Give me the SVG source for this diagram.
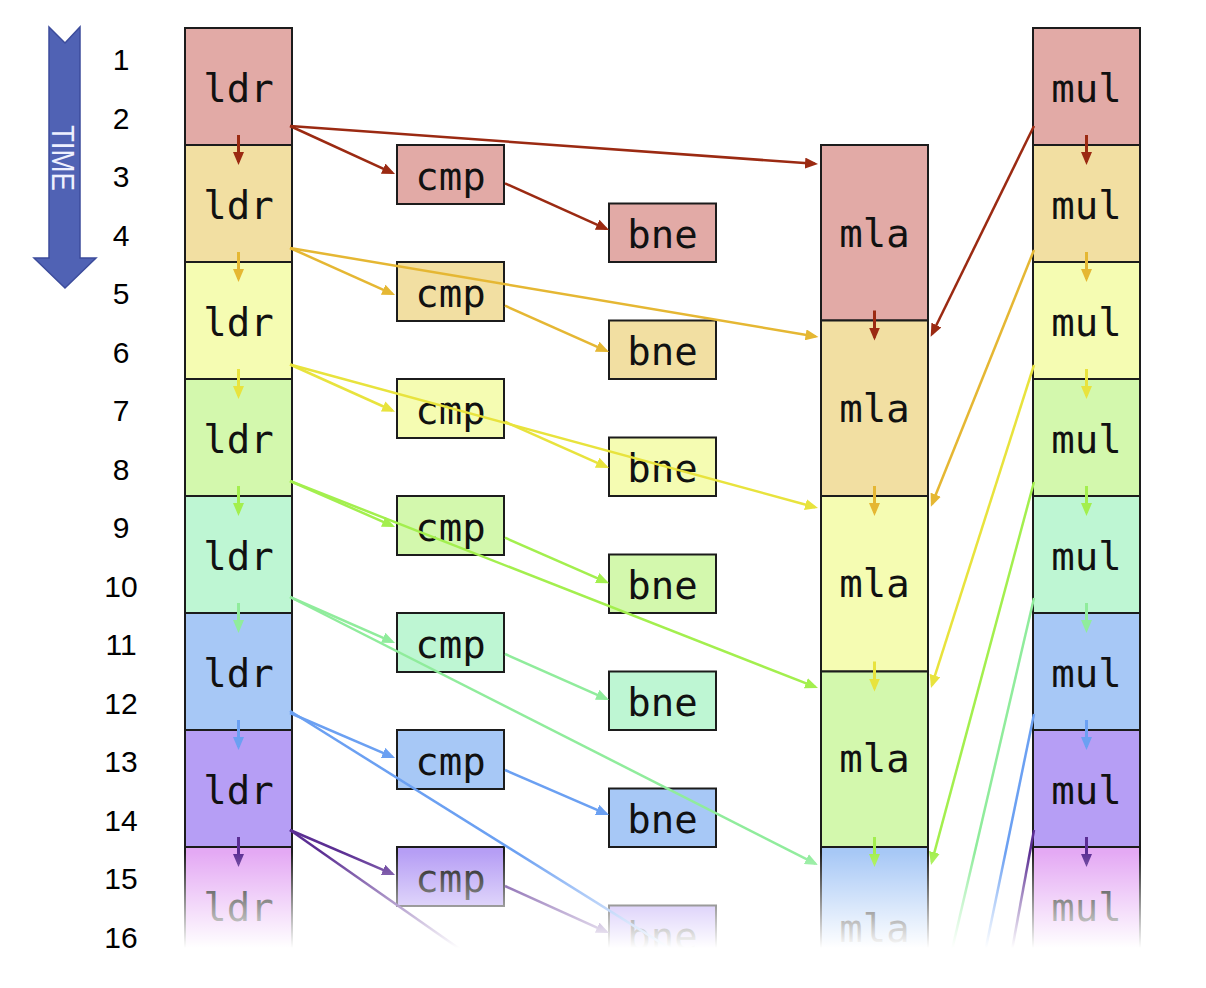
<svg xmlns="http://www.w3.org/2000/svg" width="1206" height="988" viewBox="0 0 1206 988">
<style>
.box{stroke:#1c1c1c;stroke-width:2}
.lbl{font-family:"DejaVu Sans Mono",monospace;font-size:39px;text-anchor:middle;fill:#111}
.num{font-family:"Liberation Sans",Arial,sans-serif;font-size:30px;text-anchor:middle;fill:#000}
.f0{fill:#E2AAA6}.f1{fill:#F2DFA2}.f2{fill:#F5FCB2}.f3{fill:#D3F8AD}.f4{fill:#BEF6D3}.f5{fill:#A7C8F6}.f6{fill:#B69EF5}.f7{fill:#E4A9F4}
.ln{fill:none;stroke-width:2.5}
.dn{fill:none;stroke-width:3}
.s0{stroke:#9B2A12;marker-end:url(#m0)}.s1{stroke:#E5B733;marker-end:url(#m1)}.s2{stroke:#E8E33D;marker-end:url(#m2)}.s3{stroke:#A3EF4E;marker-end:url(#m3)}.s4{stroke:#90EC9C;marker-end:url(#m4)}.s5{stroke:#6BA0F2;marker-end:url(#m5)}.s6{stroke:#5B2E93;marker-end:url(#m6)}
</style>
<defs>
<marker id="m0" markerUnits="userSpaceOnUse" markerWidth="13" markerHeight="11" refX="10" refY="5.5" orient="auto"><path d="M0,0 L13,5.5 L0,11 z" fill="#9B2A12"/></marker>
<marker id="m1" markerUnits="userSpaceOnUse" markerWidth="13" markerHeight="11" refX="10" refY="5.5" orient="auto"><path d="M0,0 L13,5.5 L0,11 z" fill="#E5B733"/></marker>
<marker id="m2" markerUnits="userSpaceOnUse" markerWidth="13" markerHeight="11" refX="10" refY="5.5" orient="auto"><path d="M0,0 L13,5.5 L0,11 z" fill="#E8E33D"/></marker>
<marker id="m3" markerUnits="userSpaceOnUse" markerWidth="13" markerHeight="11" refX="10" refY="5.5" orient="auto"><path d="M0,0 L13,5.5 L0,11 z" fill="#A3EF4E"/></marker>
<marker id="m4" markerUnits="userSpaceOnUse" markerWidth="13" markerHeight="11" refX="10" refY="5.5" orient="auto"><path d="M0,0 L13,5.5 L0,11 z" fill="#90EC9C"/></marker>
<marker id="m5" markerUnits="userSpaceOnUse" markerWidth="13" markerHeight="11" refX="10" refY="5.5" orient="auto"><path d="M0,0 L13,5.5 L0,11 z" fill="#6BA0F2"/></marker>
<marker id="m6" markerUnits="userSpaceOnUse" markerWidth="13" markerHeight="11" refX="10" refY="5.5" orient="auto"><path d="M0,0 L13,5.5 L0,11 z" fill="#5B2E93"/></marker>
<linearGradient id="fade" gradientUnits="userSpaceOnUse" x1="0" y1="852" x2="0" y2="948">
<stop offset="0" stop-color="#fff" stop-opacity="0"/>
<stop offset="1" stop-color="#fff" stop-opacity="1"/>
</linearGradient>
</defs>
<rect width="1206" height="988" fill="#fff"/>

<g id="time-arrow">
<polygon points="49,27 65,43 80,27 80,258 96,258 65,288 34,258 49,258" fill="#5062B4" stroke="#3C4C9C" stroke-width="1.5"/>
<text transform="translate(52,158) rotate(90)" font-family="'Liberation Sans',Arial,sans-serif" font-size="31" fill="#EEF0FF" text-anchor="middle" textLength="66" lengthAdjust="spacingAndGlyphs">TIME</text>
</g>

<g id="time-numbers">
<text class="num" x="121" y="70">1</text>
<text class="num" x="121" y="128.5">2</text>
<text class="num" x="121" y="187">3</text>
<text class="num" x="121" y="245.5">4</text>
<text class="num" x="121" y="304">5</text>
<text class="num" x="121" y="362.5">6</text>
<text class="num" x="121" y="421">7</text>
<text class="num" x="121" y="479.5">8</text>
<text class="num" x="121" y="538">9</text>
<text class="num" x="121" y="596.5">10</text>
<text class="num" x="121" y="655">11</text>
<text class="num" x="121" y="713.5">12</text>
<text class="num" x="121" y="772">13</text>
<text class="num" x="121" y="830.5">14</text>
<text class="num" x="121" y="889">15</text>
<text class="num" x="121" y="947.5">16</text>
</g>

<g id="ldr-1"><rect class="box f0" x="185" y="28" width="107" height="117"/><text class="lbl" x="238.5" y="101.5">ldr</text></g>
<g id="ldr-2"><rect class="box f1" x="185" y="145" width="107" height="117"/><text class="lbl" x="238.5" y="218.5">ldr</text></g>
<g id="ldr-3"><rect class="box f2" x="185" y="262" width="107" height="117"/><text class="lbl" x="238.5" y="335.5">ldr</text></g>
<g id="ldr-4"><rect class="box f3" x="185" y="379" width="107" height="117"/><text class="lbl" x="238.5" y="452.5">ldr</text></g>
<g id="ldr-5"><rect class="box f4" x="185" y="496" width="107" height="117"/><text class="lbl" x="238.5" y="569.5">ldr</text></g>
<g id="ldr-6"><rect class="box f5" x="185" y="613" width="107" height="117"/><text class="lbl" x="238.5" y="686.5">ldr</text></g>
<g id="ldr-7"><rect class="box f6" x="185" y="730" width="107" height="117"/><text class="lbl" x="238.5" y="803.5">ldr</text></g>
<g id="ldr-8"><rect class="box f7" x="185" y="847" width="107" height="117"/><text class="lbl" x="238.5" y="920.5">ldr</text></g>

<g id="cmp-1"><rect class="box f0" x="397" y="145" width="107" height="59"/><text class="lbl" x="450.5" y="189.5">cmp</text></g>
<g id="cmp-2"><rect class="box f1" x="397" y="262" width="107" height="59"/><text class="lbl" x="450.5" y="306.5">cmp</text></g>
<g id="cmp-3"><rect class="box f2" x="397" y="379" width="107" height="59"/><text class="lbl" x="450.5" y="423.5">cmp</text></g>
<g id="cmp-4"><rect class="box f3" x="397" y="496" width="107" height="59"/><text class="lbl" x="450.5" y="540.5">cmp</text></g>
<g id="cmp-5"><rect class="box f4" x="397" y="613" width="107" height="59"/><text class="lbl" x="450.5" y="657.5">cmp</text></g>
<g id="cmp-6"><rect class="box f5" x="397" y="730" width="107" height="59"/><text class="lbl" x="450.5" y="774.5">cmp</text></g>
<g id="cmp-7"><rect class="box f6" x="397" y="847" width="107" height="59"/><text class="lbl" x="450.5" y="891.5">cmp</text></g>

<g id="bne-1"><rect class="box f0" x="609" y="203.5" width="107" height="58.5"/><text class="lbl" x="662.5" y="247.5">bne</text></g>
<g id="bne-2"><rect class="box f1" x="609" y="320.5" width="107" height="58.5"/><text class="lbl" x="662.5" y="364.5">bne</text></g>
<g id="bne-3"><rect class="box f2" x="609" y="437.5" width="107" height="58.5"/><text class="lbl" x="662.5" y="481.5">bne</text></g>
<g id="bne-4"><rect class="box f3" x="609" y="554.5" width="107" height="58.5"/><text class="lbl" x="662.5" y="598.5">bne</text></g>
<g id="bne-5"><rect class="box f4" x="609" y="671.5" width="107" height="58.5"/><text class="lbl" x="662.5" y="715.5">bne</text></g>
<g id="bne-6"><rect class="box f5" x="609" y="788.5" width="107" height="58.5"/><text class="lbl" x="662.5" y="832.5">bne</text></g>
<g id="bne-7"><rect class="box f6" x="609" y="905.5" width="107" height="58.5"/><text class="lbl" x="662.5" y="949.5">bne</text></g>

<g id="mla-1"><rect class="box f0" x="821" y="145" width="107" height="175.5"/><text class="lbl" x="874.5" y="247">mla</text></g>
<g id="mla-2"><rect class="box f1" x="821" y="320.5" width="107" height="175.5"/><text class="lbl" x="874.5" y="422">mla</text></g>
<g id="mla-3"><rect class="box f2" x="821" y="496" width="107" height="175.5"/><text class="lbl" x="874.5" y="597">mla</text></g>
<g id="mla-4"><rect class="box f3" x="821" y="671.5" width="107" height="175.5"/><text class="lbl" x="874.5" y="772">mla</text></g>
<g id="mla-5"><rect class="box f5" x="821" y="847" width="107" height="175.5"/><text class="lbl" x="874.5" y="942">mla</text></g>

<g id="mul-1"><rect class="box f0" x="1033" y="28" width="107" height="117"/><text class="lbl" x="1086.5" y="101.5">mul</text></g>
<g id="mul-2"><rect class="box f1" x="1033" y="145" width="107" height="117"/><text class="lbl" x="1086.5" y="218.5">mul</text></g>
<g id="mul-3"><rect class="box f2" x="1033" y="262" width="107" height="117"/><text class="lbl" x="1086.5" y="335.5">mul</text></g>
<g id="mul-4"><rect class="box f3" x="1033" y="379" width="107" height="117"/><text class="lbl" x="1086.5" y="452.5">mul</text></g>
<g id="mul-5"><rect class="box f4" x="1033" y="496" width="107" height="117"/><text class="lbl" x="1086.5" y="569.5">mul</text></g>
<g id="mul-6"><rect class="box f5" x="1033" y="613" width="107" height="117"/><text class="lbl" x="1086.5" y="686.5">mul</text></g>
<g id="mul-7"><rect class="box f6" x="1033" y="730" width="107" height="117"/><text class="lbl" x="1086.5" y="803.5">mul</text></g>
<g id="mul-8"><rect class="box f7" x="1033" y="847" width="107" height="117"/><text class="lbl" x="1086.5" y="920.5">mul</text></g>

<g id="connectors">
<path class="dn s0" d="M238.5,135 L238.5,162"/>
<path class="dn s1" d="M238.5,252 L238.5,279"/>
<path class="dn s2" d="M238.5,369 L238.5,396"/>
<path class="dn s3" d="M238.5,486 L238.5,513"/>
<path class="dn s4" d="M238.5,603 L238.5,630"/>
<path class="dn s5" d="M238.5,720 L238.5,747"/>
<path class="dn s6" d="M238.5,837 L238.5,864"/>
<path class="dn s0" d="M1086.5,135 L1086.5,162"/>
<path class="dn s1" d="M1086.5,252 L1086.5,279"/>
<path class="dn s2" d="M1086.5,369 L1086.5,396"/>
<path class="dn s3" d="M1086.5,486 L1086.5,513"/>
<path class="dn s4" d="M1086.5,603 L1086.5,630"/>
<path class="dn s5" d="M1086.5,720 L1086.5,747"/>
<path class="dn s6" d="M1086.5,837 L1086.5,864"/>
<path class="dn s0" d="M874.5,310.5 L874.5,337.5"/>
<path class="dn s1" d="M874.5,486 L874.5,513"/>
<path class="dn s2" d="M874.5,661.5 L874.5,688.5"/>
<path class="dn s3" d="M874.5,837 L874.5,864"/>

<path class="ln s0" d="M290,126 L392.3,172.8"/>
<path class="ln s1" d="M290,248 L392.3,293.8"/>
<path class="ln s2" d="M290,364.5 L392.3,410.5"/>
<path class="ln s3" d="M290,481 L392.3,525.8"/>
<path class="ln s4" d="M290,597 L392.3,641.8"/>
<path class="ln s5" d="M290,713 L392.3,756.8"/>
<path class="ln s6" d="M290,830 L392.3,873.8"/>

<path class="ln s0" d="M290,126 L815,163.8"/>
<path class="ln s1" d="M290,248 L815.5,336.5"/>
<path class="ln s2" d="M290,364.5 L815.1,507.2"/>
<path class="ln s3" d="M290,481 L815.2,686.9"/>
<path class="ln s4" d="M290,597 L815.3,863.6"/>
<path class="ln s5" d="M290,711 L818,1041"/>
<path class="ln s6" d="M290,830 L818,1200"/>

<path class="ln s0" d="M505,183.3 L606.3,228.8"/>
<path class="ln s1" d="M505,305.7 L606.3,350.8"/>
<path class="ln s2" d="M505,421.7 L606.3,466.8"/>
<path class="ln s3" d="M505,537.7 L606.3,582.1"/>
<path class="ln s4" d="M505,654 L606.3,698.8"/>
<path class="ln s5" d="M505,770 L606.3,813.8"/>
<path class="ln s6" d="M505,886 L606.3,931.8"/>

<path class="ln s0" d="M1034,126 L932,334"/>
<path class="ln s1" d="M1034,250 L932,504"/>
<path class="ln s2" d="M1034,365 L931.9,685.1"/>
<path class="ln s3" d="M1034,482 L931.8,862.1"/>
<path class="ln s4" d="M1034,598 L931,1040"/>
<path class="ln s5" d="M1034,714 L931,1215"/>
<path class="ln s6" d="M1034,830 L931,1392"/>
</g>

<rect id="fade-out" x="165" y="852" width="1041" height="136" fill="url(#fade)"/>
</svg>
